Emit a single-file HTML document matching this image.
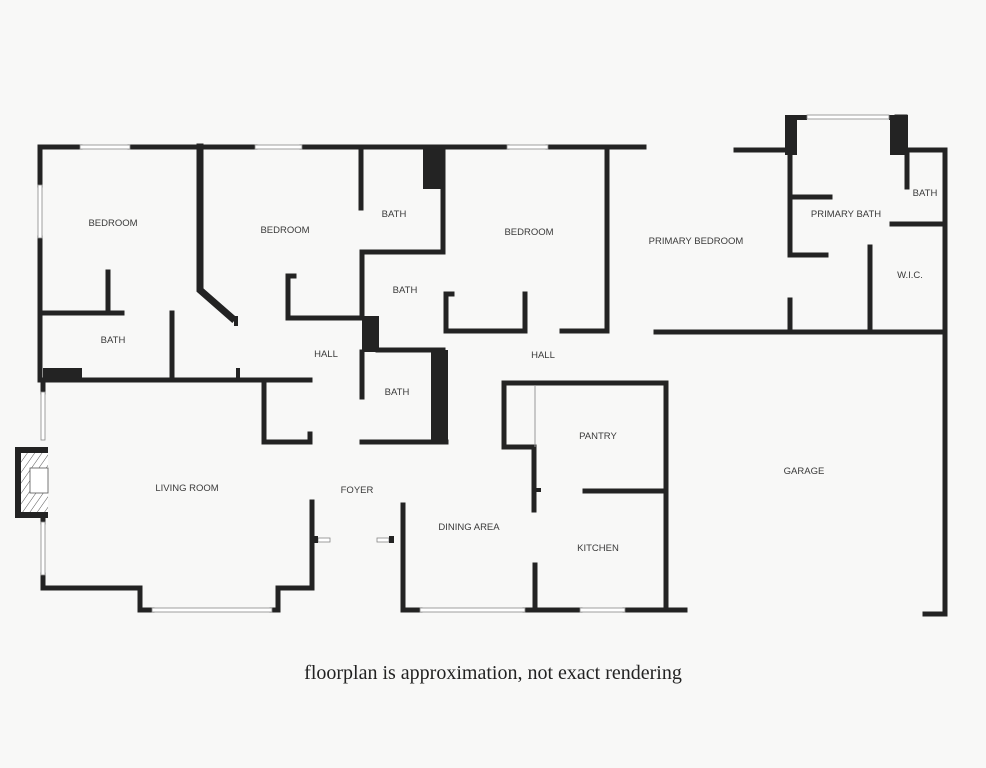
<!DOCTYPE html>
<html><head><meta charset="utf-8"><style>
html,body{margin:0;padding:0;background:#f8f8f7;}
svg{display:block}
.l{font-family:"Liberation Sans",sans-serif;font-size:9.5px;fill:#3a3a3a;text-anchor:middle;}
</style></head><body>
<svg width="986" height="768" viewBox="0 0 986 768" xmlns="http://www.w3.org/2000/svg">
<rect width="986" height="768" fill="#f8f8f7"/>
<defs>
<pattern id="h" width="6" height="6" patternUnits="userSpaceOnUse" patternTransform="rotate(35)">
<rect width="6" height="6" fill="#fff"/><line x1="0" y1="0" x2="0" y2="6" stroke="#555" stroke-width="1"/>
</pattern>
</defs>
<g stroke="#232323" stroke-width="5" stroke-linecap="square" fill="none">
<path d="M40 147 H80 M130 147 H255 M302 147 H507 M548 147 H644"/>
<path d="M40 147 V185 M40 238 V380 M43 380 V392"/>
<path d="M200 147 V290 L232 318" stroke-width="7"/>
<path d="M236 318 V324" stroke-width="4"/>
<path d="M108 272 V313 M43 313 H122"/>
<path d="M172 313 V378"/>
<path d="M43 380 H310"/>
<path d="M238 370 V380" stroke-width="4"/>
<path d="M264 382 V442 H310 V434"/>
<path d="M288 276 V318 H362 M288 276 H294"/>
<path d="M361 147 V208 M362 252 H443 M443 147 V252"/>
<path d="M362 252 V318 M378 350 H443 M362 352 V397 M362 442 H446"/>
<path d="M446 294 V331 H525 V294 M446 294 H452"/>
<path d="M607 150 V331 M562 331 H607"/>
<path d="M736 150 H790 M790 150 V255 M790 197 H830 M790 255 H826 M790 300 V331"/>
<path d="M897 117 H905"/>
<path d="M905 150 H945 V614 H925 M907 150 V187 M892 224 H945 M870 247 V331"/>
<path d="M656 332 H945"/>
<path d="M43 575 V588 H140 V610 H152 M272 610 H278 V588 H312 V502"/>
<path d="M43 517 V522"/>
<path d="M403 505 V610 H420 M525 610 H580 M625 610 H685"/>
<path d="M504 383 H666 V610 M504 383 V447 H534 V510 M585 491 H666 M535 565 V610"/>
<path d="M534 490 H539" stroke-width="4"/>
</g>
<g fill="#232323">
<rect x="423" y="147" width="20" height="42"/>
<rect x="362" y="316" width="17" height="36"/>
<rect x="431" y="350" width="17" height="94"/>
<rect x="43" y="368" width="39" height="14"/>
<rect x="785" y="115" width="12" height="40"/>
<rect x="890" y="115" width="18" height="40"/>
<rect x="797" y="115" width="10" height="5"/>
<rect x="889" y="115" width="4" height="5"/>
<rect x="15" y="447" width="33" height="71"/>
</g>
<rect x="21" y="453" width="27" height="59" fill="url(#h)"/>
<rect x="30" y="468" width="18" height="25" fill="#fff" stroke="#555" stroke-width="0.8"/>
<g fill="#fff" stroke="#888" stroke-width="0.8">
<rect x="80" y="145" width="50" height="4"/>
<rect x="255" y="145" width="47" height="4"/>
<rect x="507" y="145" width="41" height="4"/>
<rect x="807" y="115" width="82" height="4"/>
<rect x="38" y="185" width="4" height="53"/>
<rect x="41" y="392" width="4" height="48"/>
<rect x="41" y="522" width="4" height="53"/>
<rect x="152" y="608" width="120" height="4"/>
<rect x="420" y="608" width="105" height="4"/>
<rect x="580" y="608" width="45" height="4"/>
<rect x="318" y="538" width="12" height="4"/>
<rect x="377" y="538" width="12" height="4"/>
</g>
<g fill="#232323"><rect x="313" y="536" width="5" height="7"/><rect x="389" y="536" width="5" height="7"/></g>
<line x1="535" y1="386" x2="535" y2="447" stroke="#999" stroke-width="1"/>
<text class="l" x="113" y="226">BEDROOM</text>
<text class="l" x="285" y="233">BEDROOM</text>
<text class="l" x="394" y="217">BATH</text>
<text class="l" x="405" y="293">BATH</text>
<text class="l" x="529" y="235">BEDROOM</text>
<text class="l" x="696" y="244">PRIMARY BEDROOM</text>
<text class="l" x="846" y="217">PRIMARY BATH</text>
<text class="l" x="925" y="196">BATH</text>
<text class="l" x="910" y="278">W.I.C.</text>
<text class="l" x="113" y="343">BATH</text>
<text class="l" x="326" y="357">HALL</text>
<text class="l" x="543" y="358">HALL</text>
<text class="l" x="397" y="395">BATH</text>
<text class="l" x="598" y="439">PANTRY</text>
<text class="l" x="804" y="474">GARAGE</text>
<text class="l" x="187" y="491">LIVING ROOM</text>
<text class="l" x="357" y="493">FOYER</text>
<text class="l" x="469" y="530">DINING AREA</text>
<text class="l" x="598" y="551">KITCHEN</text>
<text x="493" y="679" text-anchor="middle" font-family="Liberation Serif, serif" font-size="20" fill="#222">floorplan is approximation, not exact rendering</text>
</svg>
</body></html>
